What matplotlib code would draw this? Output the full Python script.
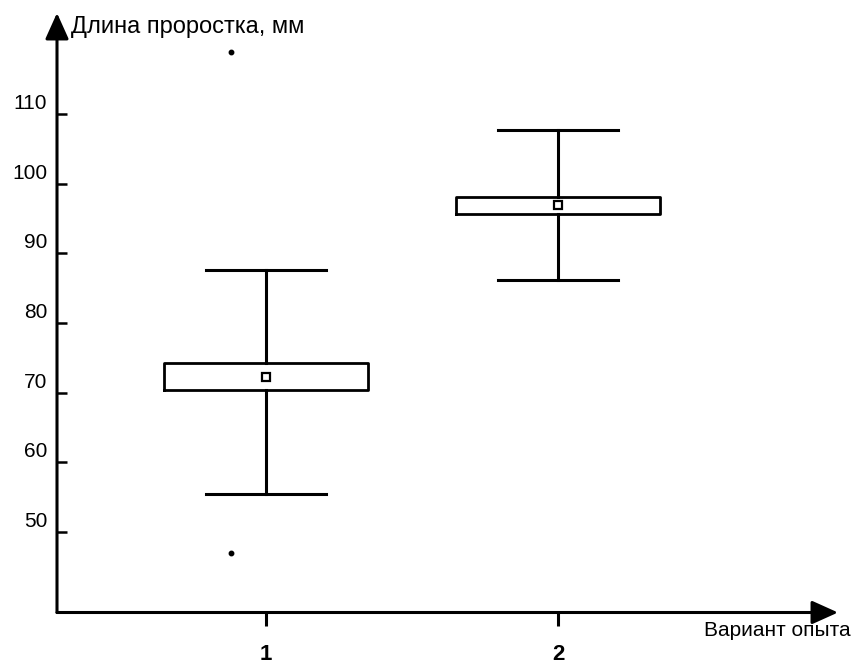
import matplotlib
matplotlib.use('Agg')
import matplotlib.pyplot as plt
from matplotlib.transforms import ScaledTranslation

# Data
variants = [1, 2]
variant_labels = ['1', '2']
q1 = [70.4, 95.6]
q3 = [74.3, 98.1]
means = [72.3, 96.9]
whisker_low = [55.5, 86.2]
whisker_high = [87.6, 107.7]
outliers = [[118.9, 47.0], []]
y_ticks = [50, 60, 70, 80, 90, 100, 110]

plt.rcParams['font.family'] = ['Liberation Sans', 'DejaVu Sans']

fig = plt.figure(figsize=(8.55, 6.64), dpi=100)
W, H = 855, 664
left, right, bottom, top = 57, 838, 612.5, 13
ax = fig.add_axes([left / W, 1 - bottom / H, (right - left) / W, (bottom - top) / H])

# box statistics for bxp
stats = []
for i in range(len(variants)):
    stats.append({
        'q1': q1[i], 'q3': q3[i], 'med': means[i], 'mean': means[i],
        'whislo': whisker_low[i], 'whishi': whisker_high[i], 'fliers': [],
    })

ax.bxp(stats, positions=variants, widths=0.7, capwidths=0.41,
       showmeans=True, showfliers=False,
       boxprops=dict(color='black', linewidth=2.0),
       whiskerprops=dict(color='black', linewidth=2.2),
       capprops=dict(color='black', linewidth=2.2),
       medianprops=dict(visible=False),
       meanprops=dict(marker='s', markerfacecolor='white', markeredgecolor='black',
                      markersize=5.5, markeredgewidth=1.6))

# outlying points sit a little left of the whisker line
for pos, pts in zip(variants, outliers):
    if pts:
        ax.plot([pos - 0.12] * len(pts), pts, 'o', color='black', markersize=3.2)

ax.set_xlim(0.284, 2.959)
ax.set_ylim(38.45, 124.5)

for s in ax.spines.values():
    s.set_visible(False)

# axis arrows
arrow = dict(arrowstyle='-|>,head_length=0.8,head_width=0.36', color='black',
             lw=2.2, shrinkA=0, shrinkB=0, mutation_scale=20)
ax.annotate('', xy=(0, 1), xytext=(0, 0), xycoords='axes fraction', arrowprops=arrow)
ax.annotate('', xy=(1, 0), xytext=(0, 0), xycoords='axes fraction', arrowprops=arrow)

ax.set_yticks(y_ticks)
ax.set_xticks(variants)
ax.set_xticklabels(variant_labels)
ax.tick_params(axis='y', direction='in', length=7, width=1.8, labelsize=15, pad=7)
ax.tick_params(axis='x', direction='out', length=9, width=2.2, labelsize=16, pad=14)
for lab in ax.get_yticklabels():
    lab.set_transform(lab.get_transform() + ScaledTranslation(0, 9 / 72, fig.dpi_scale_trans))
for lab in ax.get_xticklabels():
    lab.set_fontweight('bold')

fig.text(71 / W, 1 - 27 / H, 'Длина проростка, мм', fontsize=17, va='center', ha='left')
fig.text(851 / W, 1 - 631 / H, 'Вариант опыта', fontsize=15, va='center', ha='right')

fig.savefig('out.png', dpi=100)
